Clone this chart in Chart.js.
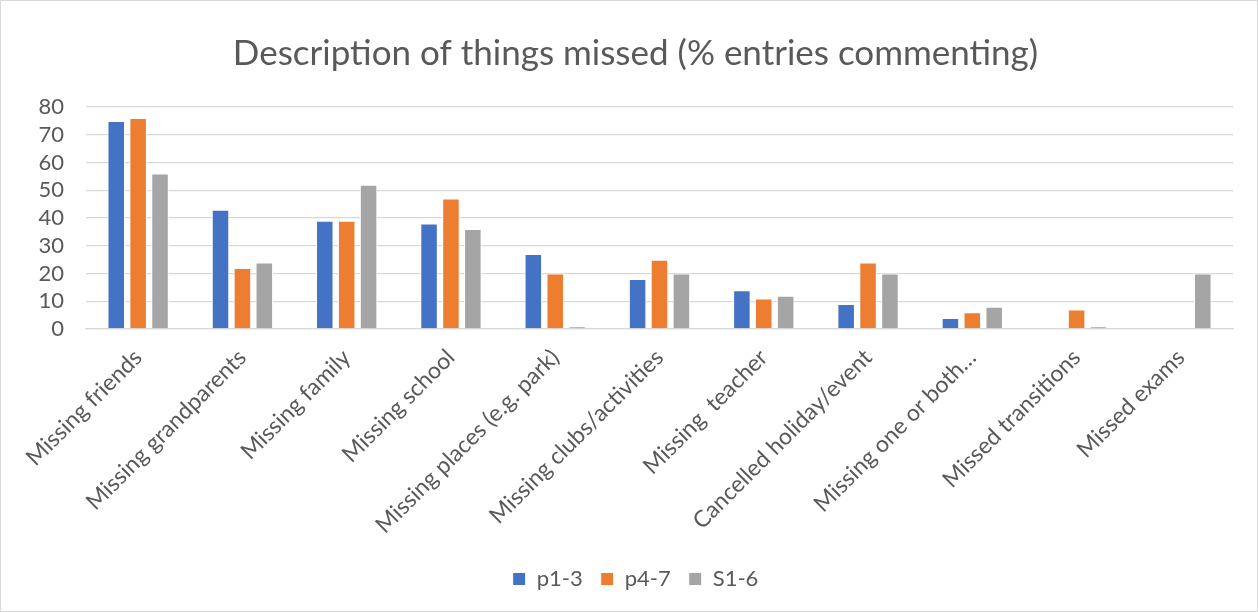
<!DOCTYPE html>
<html>
<head>
<meta charset="utf-8">
<title>Description of things missed</title>
<script src="https://cdn.jsdelivr.net/npm/chart.js@4/dist/chart.umd.min.js"></script>
<style>
  html, body { margin: 0; padding: 0; background: #fff; }
  .frame {
    position: relative;
    width: 1256px;
    height: 610px;
    border: 1px solid #d9d9d9;
    background: #fff;
  }
</style>
</head>
<body>
<div class="frame">
  <canvas id="missed-chart" width="1256" height="610"></canvas>
</div>
<script>
const categories = [
    'Missing friends',
    'Missing grandparents',
    'Missing family',
    'Missing school',
    'Missing places (e.g. park)',
    'Missing clubs/activities',
    'Missing  teacher',
    'Cancelled holiday/event',
    'Missing one or both…',
    'Missed transitions',
    'Missed exams'
];

const p13 = [75, 43, 39, 38, 27, 18, 14, 9, 4, 0, 0];
const p47 = [76, 22, 39, 47, 20, 25, 11, 24, 6, 7, 0];
const s16 = [56, 24, 52, 36, 1, 20, 12, 20, 8, 1, 20];

const yTicks = [0, 10, 20, 30, 40, 50, 60, 70, 80];

const FONT = 'Lato, "Open Sans", "Liberation Sans", sans-serif';
const TEXT = '#595959';
const GRID = '#d9d9d9';

function series(label, data, color) {
    return {
        label,
        data,
        backgroundColor: color,
        borderColor: '#ffffff',
        borderWidth: 1,
        categoryPercentage: 0.63,
        barPercentage: 0.8
    };
}

const ctx = document.getElementById('missed-chart').getContext('2d');

new Chart(ctx, {
    type: 'bar',
    data: {
        labels: categories,
        datasets: [
            series('p1-3', p13, '#4472c4'),
            series('p4-7', p47, '#ed7d31'),
            series('S1-6', s16, '#a5a5a5')
        ]
    },
    options: {
        responsive: false,
        animation: false,
        layout: { padding: { left: 37, right: 24, top: 28, bottom: 11 } },
        plugins: {
            title: {
                display: true,
                text: 'Description of things missed (% entries commenting)',
                color: TEXT,
                font: { family: FONT, size: 35, weight: 'normal' },
                padding: { top: 4, bottom: 32 }
            },
            legend: {
                position: 'bottom',
                labels: {
                    color: TEXT,
                    font: { family: FONT, size: 22 },
                    boxWidth: 13,
                    boxHeight: 13,
                    padding: 18
                }
            },
            tooltip: { enabled: false }
        },
        scales: {
            y: {
                min: 0,
                max: 80,
                afterBuildTicks: axis => { axis.ticks = yTicks.map(v => ({ value: v })); },
                // fit() counts tick padding twice, so pin the width
                afterFit: axis => { axis.width = 48; },
                grid: { color: GRID, lineWidth: 1.3, drawTicks: false },
                border: { display: false },
                ticks: {
                    color: TEXT,
                    font: { family: FONT, size: 22 },
                    padding: 22,
                    autoSkip: false
                }
            },
            x: {
                // rotated labels hang past the plot edges; let them
                afterFit: axis => {
                    axis.paddingLeft = 0;
                    axis.paddingRight = 0;
                    axis.height = 221;
                },
                grid: { display: false, drawTicks: false },
                border: { color: GRID, width: 1.3 },
                ticks: {
                    color: TEXT,
                    font: { family: FONT, size: 23 },
                    maxRotation: 45,
                    minRotation: 45,
                    autoSkip: false,
                    padding: 15
                }
            }
        }
    }
});
</script>
</body>
</html>
